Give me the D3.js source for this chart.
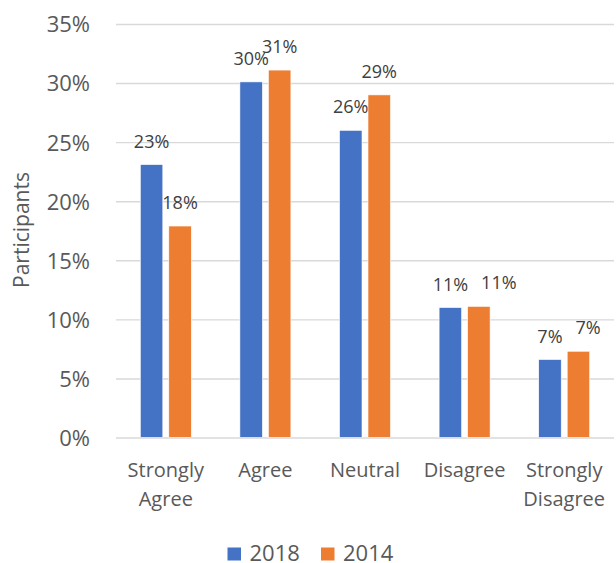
<!DOCTYPE html>
<html>
<head>
<meta charset="utf-8">
<script src="https://cdn.jsdelivr.net/npm/d3@7"></script>
<style>
  html, body { margin: 0; padding: 0; background: #fff; }
  svg { display: block; font-family: "Open Sans", sans-serif; }
</style>
</head>
<body>
<svg id="chart" width="616" height="563"></svg>
<script>
// Survey responses by agreement level, two survey years
const categories = [["Strongly", "Agree"], ["Agree"], ["Neutral"], ["Disagree"], ["Strongly", "Disagree"]];
const seriesNames = ["2018", "2014"];
const values2018 = [0.231, 0.301, 0.260, 0.110, 0.066];
const values2014 = [0.179, 0.311, 0.290, 0.111, 0.073];
const labels2018 = ["23%", "30%", "26%", "11%", "7%"];
const labels2014 = ["18%", "31%", "29%", "11%", "7%"];
const yTicks = [0, 0.05, 0.10, 0.15, 0.20, 0.25, 0.30, 0.35];
const colors = ["#4472C4", "#ED7D31"];

const svg = d3.select("#chart");
const textColor = "#595959";

const plot = { left: 116, right: 614, top: 24, bottom: 437.5 };
const catKeys = categories.map(c => c.join(" "));

const x0 = d3.scaleBand()
  .domain(catKeys)
  .range([plot.left, plot.right])
  .paddingInner(0.488)
  .paddingOuter(0.244);

const x1 = d3.scaleBand()
  .domain(seriesNames)
  .range([0, x0.bandwidth()])
  .paddingInner(0.21);

const y = d3.scaleLinear()
  .domain([0, 0.35])
  .range([plot.bottom, plot.top]);

// Horizontal gridlines with percentage labels
const yAxis = d3.axisLeft(y)
  .tickValues(yTicks)
  .tickFormat(d3.format(".0%"))
  .tickSize(-(plot.right - plot.left))
  .tickPadding(26);

const yg = svg.append("g")
  .attr("transform", `translate(${plot.left},0)`)
  .call(yAxis);
yg.select(".domain").remove();
yg.selectAll(".tick line").attr("stroke", "#d9d9d9").attr("stroke-width", 1.4);
yg.selectAll(".tick text")
  .attr("fill", textColor)
  .style("font-size", "22px")
  .style("font-family", "'Open Sans', sans-serif")
  .attr("dy", "0.36em");

// Bars
const rows = catKeys.map((k, i) => ({
  key: k,
  items: [
    { series: seriesNames[0], value: values2018[i], label: labels2018[i], color: colors[0] },
    { series: seriesNames[1], value: values2014[i], label: labels2014[i], color: colors[1] }
  ]
}));

const groups = svg.append("g").selectAll("g")
  .data(rows)
  .join("g")
  .attr("transform", d => `translate(${x0(d.key)},0)`);

groups.selectAll("rect")
  .data(d => d.items)
  .join("rect")
  .attr("x", d => x1(d.series))
  .attr("width", x1.bandwidth())
  .attr("y", d => y(d.value))
  .attr("height", d => y(0) - y(d.value))
  .attr("fill", d => d.color)
  .attr("stroke", "#fff")
  .attr("stroke-width", 0.6);

// Value labels above bars
const valueLabels = groups.selectAll("text")
  .data(d => d.items)
  .join("text")
  .attr("x", d => x1(d.series) + x1.bandwidth() / 2)
  .attr("y", d => y(d.value) - 17)
  .attr("text-anchor", "middle")
  .attr("fill", "#404040")
  .style("font-size", "18px")
  .text(d => d.label);

// Nudge the second label right when both labels sit at nearly the same height
groups.each(function () {
  const labs = d3.select(this).selectAll("text").nodes();
  if (labs.length < 2) return;
  const a = labs[0], b = labs[1];
  const ya = +a.getAttribute("y"), yb = +b.getAttribute("y");
  if (Math.abs(ya - yb) < 11) {
    const ba = a.getBBox(), bb = b.getBBox();
    const targetLeft = ba.x + ba.width + 13;
    if (bb.x < targetLeft) {
      b.setAttribute("x", +b.getAttribute("x") + (targetLeft - bb.x));
    }
  }
});

// Category labels (wrapped onto two lines where needed)
const catLabels = svg.append("g").selectAll("text")
  .data(categories)
  .join("text")
  .attr("x", (d, i) => x0(catKeys[i]) + x0.bandwidth() / 2)
  .attr("y", 476.6)
  .attr("text-anchor", "middle")
  .attr("fill", textColor)
  .style("font-size", "20px");
catLabels.selectAll("tspan")
  .data(d => d)
  .join("tspan")
  .attr("x", function () { return d3.select(this.parentNode).attr("x"); })
  .attr("dy", (d, i) => i === 0 ? 0 : 29)
  .text(d => d);

// Y-axis title
svg.append("text")
  .attr("transform", "translate(28.5,230) rotate(-90)")
  .attr("text-anchor", "middle")
  .attr("fill", textColor)
  .style("font-size", "21px")
  .text("Participants");

// Legend
const legendX = [227.5, 321];
const legend = svg.append("g").selectAll("g")
  .data(seriesNames)
  .join("g")
  .attr("transform", (d, i) => `translate(${legendX[i]},547.5)`);
legend.append("rect")
  .attr("width", 13.5)
  .attr("height", 13)
  .attr("fill", (d, i) => colors[i]);
legend.append("text")
  .attr("x", 22)
  .attr("y", 13.2)
  .attr("fill", textColor)
  .style("font-size", "22px")
  .text(d => d);
</script>
</body>
</html>
